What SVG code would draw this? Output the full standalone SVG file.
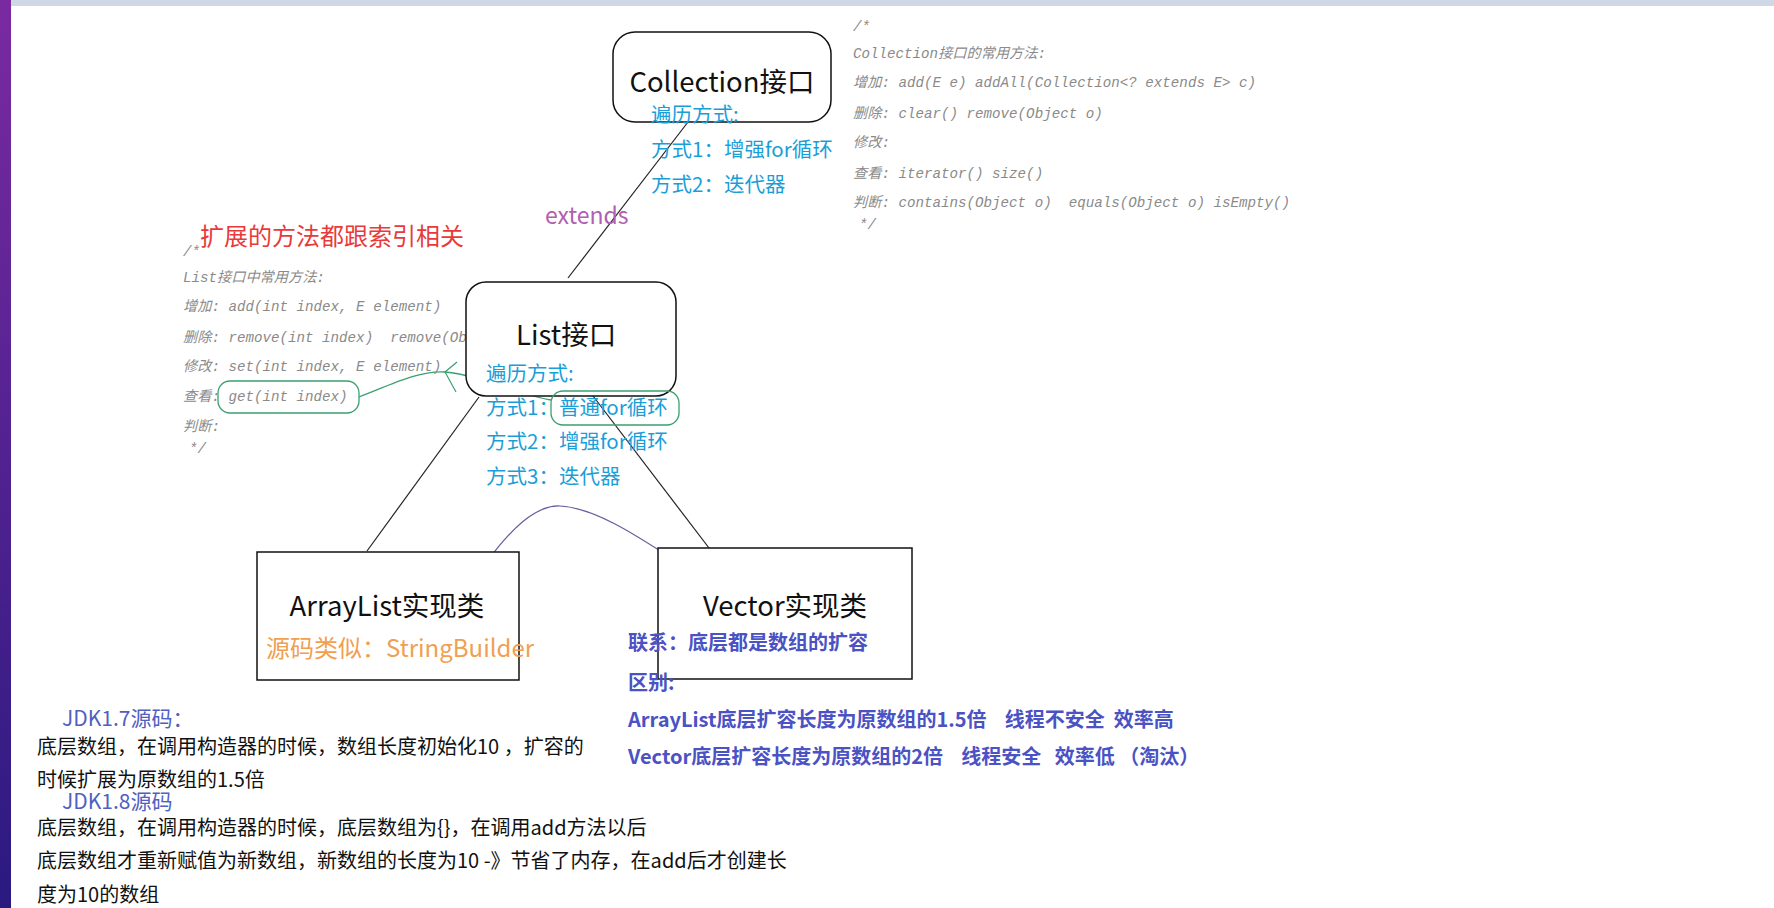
<svg xmlns="http://www.w3.org/2000/svg" width="1774" height="908" viewBox="0 0 1774 908">
<defs>
<linearGradient id="lg" x1="0" y1="0" x2="0" y2="1"><stop offset="0" stop-color="#7a2aa0"/><stop offset="1" stop-color="#2a1a80"/></linearGradient>
<style>
.t{font-family:"Noto Sans CJK SC","Noto Sans",sans-serif}
.big{font-size:27.5px;fill:#111}
.cy{font-size:20.5px;fill:#1a9ed8}
.cm{font-family:"Liberation Mono","Noto Sans CJK SC",monospace;font-style:italic;font-size:14.2px;fill:#8a8a8a}
.bl{font-size:20px;fill:#4a52c4;font-weight:bold}
.bk{font-size:20px;fill:#111}
.jdk{font-size:21px;fill:#5060c0}
.box{fill:#fff;stroke:#111;stroke-width:1.5}
.ln{stroke:#222;stroke-width:1.2;fill:none}
</style>
</defs>
<rect width="1774" height="908" fill="#fff"/>
<rect width="1774" height="6" fill="#cfd8e6"/>
<rect width="11" height="908" fill="url(#lg)"/>
<g id="connectors">
<line class="ln" x1="688" y1="122" x2="568" y2="278"/>
<line class="ln" x1="479" y1="397" x2="367" y2="551"/>
<line class="ln" x1="590" y1="392" x2="709" y2="548"/>
<path d="M486,563 C510,530 535,505 560,506 C600,508 650,545 690,570" fill="none" stroke="#6a5aa0" stroke-width="1.2"/>
<path d="M359,397 C390,385 420,370 445,372 C480,375 520,395 551,400" fill="none" stroke="#3aa070" stroke-width="1.3"/>
<path d="M457,362 L445,372 L456,392" fill="none" stroke="#3aa070" stroke-width="1.2"/>
<rect x="218" y="381" width="141" height="32" rx="12" fill="none" stroke="#3aa070" stroke-width="1.3"/>
</g>
<g id="collection-comment" class="cm">
<text x="853" y="31">/*</text>
<text x="853" y="58">Collection接口的常用方法:</text>
<text x="853" y="87">增加: add(E e) addAll(Collection&lt;? extends E&gt; c)</text>
<text x="853" y="118">删除: clear() remove(Object o)</text>
<text x="853" y="147">修改:</text>
<text x="853" y="178">查看: iterator() size()</text>
<text x="853" y="207" xml:space="preserve">判断: contains(Object o)  equals(Object o) isEmpty()</text>
<text x="859" y="229">*/</text>
</g>
<g id="list-comment" class="cm">
<text x="183" y="256">/*</text>
<text x="183" y="282">List接口中常用方法:</text>
<text x="183" y="311">增加: add(int index, E element)</text>
<text x="183" y="342" xml:space="preserve">删除: remove(int index)  remove(Object o)</text>
<text x="183" y="371">修改: set(int index, E element)</text>
<text x="183" y="401">查看: get(int index)</text>
<text x="183" y="431">判断:</text>
<text x="189" y="453">*/</text>
</g>
<text class="t" x="200" y="245" font-size="24" fill="#e83a3a">扩展的方法都跟索引相关</text>
<text class="t" x="545" y="224" font-size="23" fill="#b060b0">extends</text>
<g id="collection">
<rect class="box" x="613" y="32" width="218" height="90" rx="22"/>
<text class="t big" x="722" y="92" text-anchor="middle">Collection接口</text>
<text class="t cy" x="651" y="122">遍历方式:</text>
<text class="t cy" x="651" y="157">方式1：增强for循环</text>
<text class="t cy" x="651" y="192">方式2：迭代器</text>
</g>
<g id="list">
<rect class="box" x="466" y="282" width="210" height="114" rx="20"/>
<text class="t big" x="516" y="345">List接口</text>
<text class="t cy" x="486" y="381">遍历方式:</text>
<text class="t cy" x="486" y="415">方式1：普通for循环</text>
<text class="t cy" x="486" y="449">方式2：增强for循环</text>
<text class="t cy" x="486" y="484">方式3：迭代器</text>
<rect x="551" y="391" width="128" height="34" rx="12" fill="none" stroke="#3aa070" stroke-width="1.3"/>
</g>
<g id="arraylist">
<rect class="box" x="257" y="552" width="262" height="128"/>
<text class="t big" x="387" y="616" text-anchor="middle">ArrayList实现类</text>
<text class="t" x="266" y="657" font-size="24" fill="#f0a050">源码类似：StringBuilder</text>
</g>
<g id="vector">
<rect class="box" x="658" y="548" width="254" height="131"/>
<text class="t big" x="785" y="616" text-anchor="middle">Vector实现类</text>
</g>
<g id="compare" class="t bl">
<text x="628" y="650">联系：底层都是数组的扩容</text>
<text x="628" y="690">区别:</text>
<text x="628" y="727" xml:space="preserve">ArrayList底层扩容长度为原数组的1.5倍    线程不安全  效率高</text>
<text x="628" y="764" xml:space="preserve">Vector底层扩容长度为原数组的2倍    线程安全   效率低 （淘汰）</text>
</g>
<g id="jdk">
<text class="t jdk" x="62" y="726">JDK1.7源码：</text>
<text class="t bk" x="37" y="754">底层数组，在调用构造器的时候，数组长度初始化10 ，扩容的</text>
<text class="t bk" x="37" y="787">时候扩展为原数组的1.5倍</text>
<text class="t jdk" x="62" y="809">JDK1.8源码</text>
<text class="t bk" x="37" y="835">底层数组，在调用构造器的时候，底层数组为{}，在调用add方法以后</text>
<text class="t bk" x="37" y="868">底层数组才重新赋值为新数组，新数组的长度为10 -》节省了内存，在add后才创建长</text>
<text class="t bk" x="37" y="902">度为10的数组</text>
</g>
</svg>
